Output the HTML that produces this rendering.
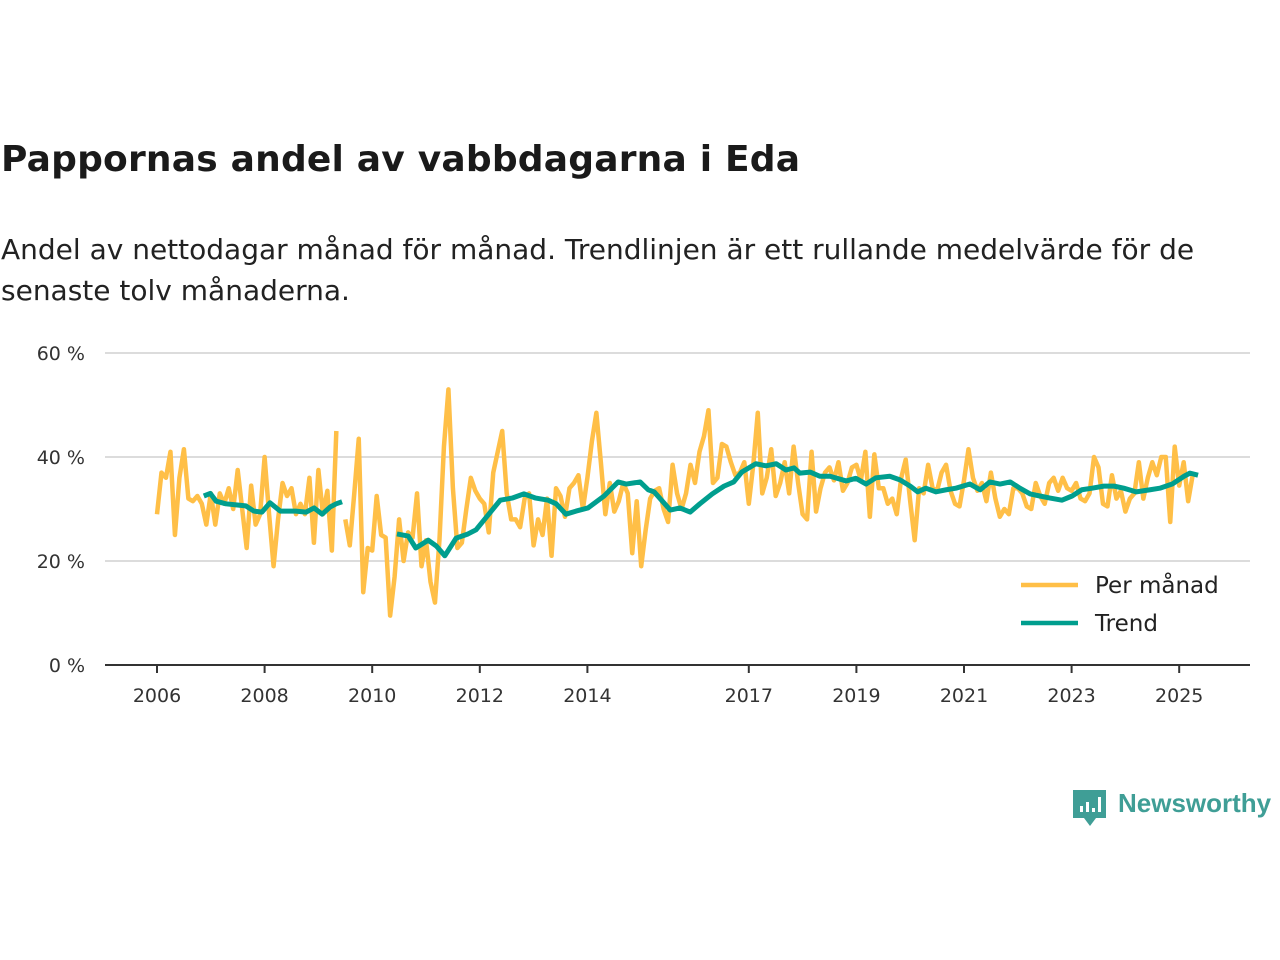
<!DOCTYPE html>
<html><head><meta charset="utf-8"><style>
body{margin:0;background:#fff;font-family:"DejaVu Sans","Liberation Sans",sans-serif;}
#wrap{position:relative;width:1280px;height:960px;overflow:hidden;}
h1{position:absolute;left:1px;top:139px;margin:0;font-size:36px;font-weight:bold;color:#1a1a1a;letter-spacing:0.2px;}
#sub{position:absolute;left:1px;top:229px;margin:0;font-size:28px;line-height:41px;color:#222;width:1245px;}
svg{position:absolute;left:0;top:0;font-family:"DejaVu Sans","Liberation Sans",sans-serif;}
</style></head><body><div id="wrap">
<h1>Pappornas andel av vabbdagarna i Eda</h1>
<p id="sub">Andel av nettodagar månad för månad. Trendlinjen är ett rullande medelvärde för de senaste tolv månaderna.</p>
<svg id="chart" width="1280" height="960"></svg>
</div>
<script>
const startYear = 2006;
const monthly = [
29,37,36,41,25,36,41.5,32,31.5,32.5,31,27,
33,27,33,31,34,30,37.5,30,22.5,34.5,27,29,
40,29,19,28,35,32.5,34,29,31,29,36,23.5,
37.5,29,33.5,22,45,null,28,23,33,43.5,14,22.5,
22,32.5,25,24.5,9.5,17,28,20,25.5,24.5,33,19,
24,16,12,24,42,53,34,22.5,23.5,30,36,33.5,
32,31,25.5,37,41,45,33,28,28,26.5,32,33,
23,28,25,32,21,34,32.5,28.5,34,35,36.5,30,
36,43,48.5,39,29,35,29.5,31.5,35,33,21.5,31.5,
19,26,32,33.5,34,30,27.5,38.5,33,30,33,38.5,
35,41,44,49,35,36,42.5,42,39,36.5,37,39,
31,38.5,48.5,33,36,41.5,32.5,35,39,33,42,35,
29,28,41,29.5,34,37,38,35.5,39,33.5,35,38,
38.5,35.5,41,28.5,40.5,34,34,31,32,29,36,39.5,
31.5,24,34,33,38.5,34,33.5,37,38.5,33.5,31,30.5,
35.5,41.5,36,33.5,35,31.5,37,32,28.5,30,29,34,
34,33,30.5,30,35,32.5,31,35,36,33.5,36,34,
33.5,35,32,31.5,33,40,38,31,30.5,36.5,32,33.5,
29.5,32,33,39,32,36,39,36.5,40,40,27.5,42,
34.5,39,31.5,36.5];
const trendDates1 = [0.87,0.99,1.10,1.28,1.47,1.65,1.80,1.95,2.10,2.29,2.58,2.77,2.92,3.07,3.22,3.33,3.44];
const trendValues1 = [32.5,33,31.5,31,30.8,30.6,29.6,29.4,31.2,29.6,29.6,29.4,30.2,29,30.4,31,31.4];
const trendDates2 = [4.46,4.67,4.81,5.04,5.19,5.35,5.56,5.78,5.93,6.08,6.38,6.60,6.82,7.04,7.27,7.42,7.60,7.79,8.01,8.31,8.57,8.72,8.98,9.13,9.24,9.54,9.72,9.91,10.09,10.32,10.54,10.72,10.87,11.13,11.32,11.51,11.69,11.84,11.95,12.14,12.32,12.51,12.81,12.99,13.18,13.36,13.62,13.81,14.00,14.14,14.29,14.48,14.67,14.85,15.11,15.30,15.48,15.67,15.86,16.04,16.23,16.41,16.60,16.82,17.01,17.19,17.38,17.60,17.79,17.97,18.20,18.46,18.64,18.87,19.09,19.20,19.35];
const trendValues2 = [25.2,24.8,22.5,24,22.9,21,24.4,25.2,26,27.9,31.7,32.1,32.9,32.1,31.7,31,29,29.6,30.2,32.5,35.2,34.8,35.2,33.7,33.3,29.8,30.2,29.4,31,32.9,34.4,35.2,37.1,38.7,38.3,38.7,37.5,37.9,36.9,37.1,36.3,36.3,35.4,35.9,34.8,36,36.3,35.6,34.4,33.3,34,33.3,33.7,34,34.8,33.7,35.2,34.8,35.2,34,32.9,32.5,32.1,31.7,32.5,33.7,34,34.4,34.4,34,33.3,33.7,34,34.8,36.3,36.9,36.5];
const yTicks = [0,20,40,60];
const xTickYears = [2006,2008,2010,2012,2014,2017,2019,2021,2023,2025];

const svg = document.getElementById('chart');
const NS = 'http://www.w3.org/2000/svg';
const x0 = 157, pxPerYear = 53.8, y0 = 665, pxPerPct = 5.2;
const xs = t => x0 + t * pxPerYear;
const ys = v => y0 - v * pxPerPct;
function mk(tag, attrs){const e=document.createElementNS(NS,tag);for(const k in attrs)e.setAttribute(k,attrs[k]);svg.appendChild(e);return e;}

yTicks.forEach(v=>{
  if(v>0){const g=mk('line',{x1:105,x2:1250,y1:ys(v),y2:ys(v),stroke:'#dcdcdc','stroke-width':2});
  
  }
  const t=mk('text',{x:85,y:ys(v)+7,'text-anchor':'end','font-size':19,fill:'#333'});
  t.textContent=v+' %';
  
  
});
const base=mk('line',{x1:105,x2:1250,y1:y0,y2:y0,stroke:'#333','stroke-width':2});


xTickYears.forEach(yr=>{
  const x=xs(yr-startYear);
  const tk=mk('line',{x1:x,x2:x,y1:y0,y2:y0+8,stroke:'#333','stroke-width':2});
  
  
  const t=mk('text',{x:x,y:702,'text-anchor':'middle','font-size':19,fill:'#333'});
  t.textContent=yr;
  
  
});
let segs=[],cur=[];
monthly.forEach((v,i)=>{ if(v==null){if(cur.length)segs.push(cur);cur=[];} else cur.push([xs(i/12),ys(v)]); });
if(cur.length)segs.push(cur);
segs.forEach(s=>{
  const p=mk('polyline',{points:s.map(a=>a.join(',')).join(' '),fill:'none',stroke:'#ffbf47','stroke-width':4.5,'stroke-linejoin':'round'});
  
  
});
[[trendDates1,trendValues1],[trendDates2,trendValues2]].forEach(([d,v])=>{
  const p=mk('polyline',{points:d.map((t,i)=>xs(t)+','+ys(v[i])).join(' '),fill:'none',stroke:'#009e8e','stroke-width':5,'stroke-linejoin':'round'});
  
  
});
[['Per månad','#ffbf47',585],['Trend','#009e8e',623]].forEach(([lab,col,y])=>{
  const l=mk('line',{x1:1021,x2:1078,y1:y,y2:y,stroke:col,'stroke-width':4.5});
  
  
  const t=mk('text',{x:1095,y:y+8,'font-size':23,fill:'#222'});
  t.textContent=lab;
  
  
});
const lg=mk('path',{d:'M1073 790 h33 v28 h-10 l-6 8 l-6 -8 h-11 z',fill:'#3f9e96'});


[[1080,806,6],[1086,802,10],[1092,808,4],[1098,797,15]].forEach(([x,y,h])=>{
  const b=mk('rect',{x:x,y:y,width:3,height:h,fill:'#fff'});
  
  
});
const lt=mk('text',{x:1118,y:812,'font-size':26,'font-weight':'bold',fill:'#3f9e96','font-family':'Liberation Sans, sans-serif'});
lt.textContent='Newsworthy';


</script></body></html>
